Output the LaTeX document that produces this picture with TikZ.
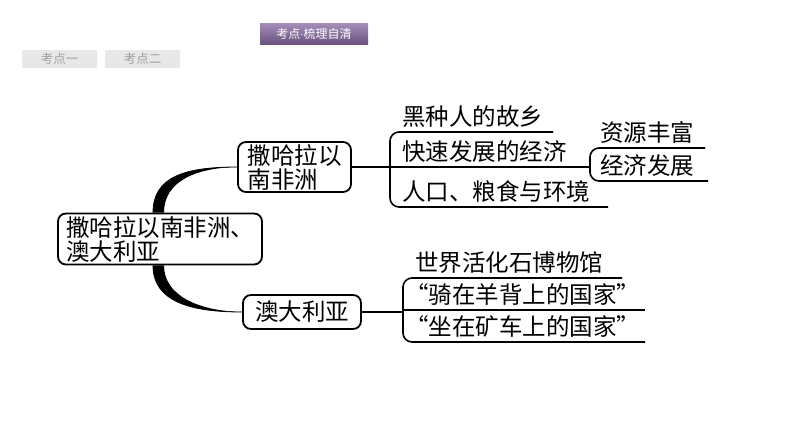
\documentclass[tikz,border=0pt]{standalone}
\usepackage{fontspec}
\setmainfont{Noto Sans CJK SC}
\newfontfamily\dotfont{DejaVu Sans}
\usetikzlibrary{calc}
\definecolor{btngray}{HTML}{E8E8E8}
\definecolor{btntext}{HTML}{A0A0A0}
\definecolor{ptop}{HTML}{A58FBA}
\definecolor{pbot}{HTML}{6B527F}
\tikzset{
  box/.style={draw, line width=1.8pt, rounded corners=8pt, fill=white, align=left, inner sep=0pt,
    font=\fontsize{23.5}{24}\selectfont},
  leaf/.style={anchor=base west, inner sep=0pt, font=\fontsize{23.5}{24}\selectfont},
  uline/.style={line width=1.6pt, rounded corners=9pt},
  conn/.style={line width=1.6pt},
  tab/.style={fill=btngray, rounded corners=1pt, text=btntext, font=\fontsize{12.5}{14}\selectfont, inner sep=0pt},
}
\begin{document}
\begin{tikzpicture}[x=1pt,y=-1pt]
\fill[white] (0,0) rectangle (794,447);
\useasboundingbox (0,0) rectangle (794,447);
% header
\node[top color=ptop, bottom color=pbot, minimum width=108pt, minimum height=21pt, inner sep=0pt,
  text=white, font=\fontsize{12}{14}\selectfont] (hdr) at (314,33.5) {考点{\dotfont\fontsize{10}{12}\selectfont·}梳理自清};
\node[tab, minimum width=75pt, minimum height=18pt] (t1) at (59.5,59) {考点一};
\node[tab, minimum width=75pt, minimum height=18pt] (t2) at (142.5,59) {考点二};
% main boxes
\node[box, minimum width=204pt, minimum height=51pt] (root) at (160,239) {撒哈拉以南非洲、\\澳大利亚};
\node[box, minimum width=113pt, minimum height=50pt] (A) at (294.5,167) {撒哈拉以\\南非洲};
\node[box, minimum width=118pt, minimum height=34pt] (B) at (302,312) {澳大利亚};
% tapered branches
\coordinate (u0) at ($(root.north)+(-7,0)$);
\coordinate (u1) at ($(root.north)+(4,0)$);
\coordinate (l0) at ($(root.south)+(-7,0)$);
\coordinate (l1) at ($(root.south)+(4,0)$);
\fill[black] (u0) .. controls ($(u0)+(0,-36)$) and ($(A.west)+(-52,0)$) .. (A.west)
  .. controls ($(A.west)+(-44,1)$) and ($(u1)+(0,-30)$) .. (u1) -- cycle;
\draw[line width=0.8pt] (u0) .. controls ($(u0)+(0,-36)$) and ($(A.west)+(-52,0)$) .. (A.west);
\fill[black] (l0) .. controls ($(l0)+(0,36)$) and ($(B.west)+(-52,0)$) .. (B.west)
  .. controls ($(B.west)+(-44,-1)$) and ($(l1)+(0,30)$) .. (l1) -- cycle;
\draw[line width=0.8pt] (l0) .. controls ($(l0)+(0,36)$) and ($(B.west)+(-52,0)$) .. (B.west);
% group 1
\coordinate (g1) at (390,167);
\draw[conn] (A.east) -- (g1);
\coordinate (a1e) at (553,132);
\coordinate (a2e) at (590,167);
\coordinate (a3e) at (608,207);
\node[leaf] (a1) at (402,125) {黑种人的故乡};
\node[leaf] (a2) at (402,160) {快速发展的经济};
\node[leaf] (a3) at (402,200) {人口、粮食与环境};
\draw[uline] (a1e) -- (g1 |- a1e) -- (g1 |- a3e) -- (a3e);
\draw[conn] (g1) -- (a2e);
% sub group
\coordinate (s1e) at (705,148);
\coordinate (s2e) at (708,181);
\node[leaf] (s1) at (600,141) {资源丰富};
\node[leaf] (s2) at (600,174) {经济发展};
\draw[uline] (s1e) -- (a2e |- s1e) -- (a2e |- s2e) -- (s2e);
% group 2
\coordinate (g2) at (403,312);
\draw[conn] (B.east) -- (g2);
\coordinate (b1e) at (622,278);
\coordinate (b2e) at (645,310);
\coordinate (b3e) at (645,342);
\node[leaf] (b1) at (415,271) {世界活化石博物馆};
\node[leaf] (b2) at (405,303) {“骑在羊背上的国家”};
\node[leaf] (b3) at (405,335) {“坐在矿车上的国家”};
\draw[uline] (b1e) -- (g2 |- b1e) -- (g2 |- b3e) -- (b3e);
\draw[conn] (g2 |- b2e) -- (b2e);
\end{tikzpicture}
\end{document}
